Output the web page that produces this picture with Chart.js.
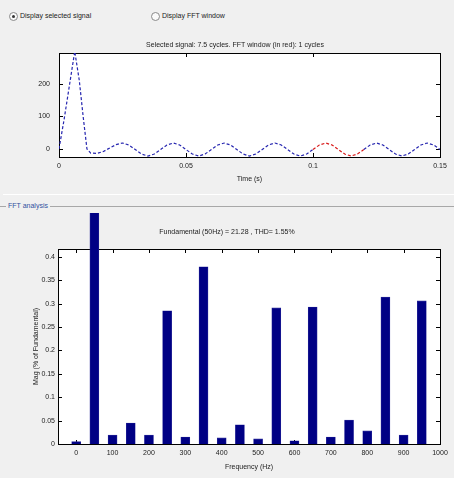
<!DOCTYPE html>
<html>
<head>
<meta charset="utf-8">
<title>FFT analysis</title>
<script src="https://cdn.jsdelivr.net/npm/chart.js@4.4.0/dist/chart.umd.min.js"></script>
<style>
  body { margin: 0; background: #f0f0f0; width: 454px; height: 478px; overflow: hidden; position: relative;
         font-family: "Liberation Sans Narrow", "Liberation Sans", Arial, sans-serif; font-size: 7px; color: #222; }
  canvas { position: absolute; }
  #sigChart { left: 30px; top: 30px; }
  #fftChart { left: 14px; top: 213px; }
  .radio { position: absolute; top: 12px; width: 7px; height: 7px; border: 1px solid #8a8a8a; border-radius: 50%; background: #fafafa; }
  .radio.on::after { content: ""; position: absolute; left: 2px; top: 2px; width: 3px; height: 3px; border-radius: 50%; background: #333; }
  .lbl { position: absolute; top: 11px; line-height: 10px; white-space: nowrap; }
  #sep { position: absolute; left: 3px; right: 0; top: 194px; height: 1px; background: #fff; }
  #panelLine { position: absolute; left: 0; right: 0; top: 206px; height: 1px; background: #a8a8a8; }
  #panelLbl { position: absolute; left: 6px; top: 201px; line-height: 10px; padding: 0 2px; background: #f0f0f0; color: #3050a0; }
</style>
</head>
<body>
<div class="radio on" style="left:9px"></div><div class="lbl" style="left:20px">Display selected signal</div>
<div class="radio" style="left:151px"></div><div class="lbl" style="left:162px">Display FFT window</div>
<div id="sep"></div>
<div id="panelLine"></div><div id="panelLbl">FFT analysis</div>
<canvas id="sigChart" width="439" height="155"></canvas>
<canvas id="fftChart" width="470" height="265"></canvas>
<script>
// selected signal (time in s)
const sigTime = [0, 0.002, 0.004, 0.0062, 0.008, 0.0095, 0.011, 0.0125, 0.015, 0.0175, 0.02, 0.0225,
  0.025, 0.0275, 0.03, 0.0325, 0.035, 0.0375, 0.04, 0.0425, 0.045, 0.0475, 0.05, 0.0525, 0.055, 0.0575,
  0.06, 0.0625, 0.065, 0.0675, 0.07, 0.0725, 0.075, 0.0775, 0.08, 0.0825, 0.085, 0.0875, 0.09, 0.0925,
  0.095, 0.0975, 0.1, 0.1025, 0.105, 0.1075, 0.11, 0.1125, 0.115, 0.1175, 0.12, 0.1225, 0.125, 0.1275,
  0.13, 0.1325, 0.135, 0.1375, 0.14, 0.1425, 0.145, 0.1475, 0.15];
const sigValue = [0, 90, 190, 300, 210, 100, 0, -13, -14, -8, 3, 13,
  18, 12, -2, -16, -22, -16, -2, 12, 18, 12, -2, -16, -22, -16,
  -2, 12, 18, 12, -2, -16, -22, -16, -2, 12, 18, 12, -2, -16,
  -22, -16, -2, 12, 18, 12, -2, -16, -22, -16, -2, 12, 18, 12,
  -2, -16, -22, -16, -2, 12, 18, 12, -2];
const fftWindow = [0.1, 0.12];
const sigXTicks = [0, 0.05, 0.1, 0.15];
const sigXLabels = ['0', '0.05', '0.1', '0.15'];
const sigYTicks = [0, 100, 200];

// FFT (magnitude in % of fundamental)
const freqHz = [0, 50, 100, 150, 200, 250, 300, 350, 400, 450, 500, 550, 600, 650, 700, 750, 800, 850, 900, 950];
const magPct = [0.005, 100, 0.019, 0.045, 0.019, 0.285, 0.015, 0.379, 0.013, 0.041, 0.011, 0.291, 0.007, 0.293,
  0.015, 0.051, 0.028, 0.314, 0.019, 0.306];
const fftXTicks = [0, 100, 200, 300, 400, 500, 600, 700, 800, 900, 1000];
const fftYTicks = [0, 0.05, 0.1, 0.15, 0.2, 0.25, 0.3, 0.35, 0.4];
const fftYLabels = ['0', '0.05', '0.1', '0.15', '0.2', '0.25', '0.3', '0.35', '0.4'];

Chart.defaults.font.family = '"Liberation Sans Narrow", "Liberation Sans", Arial, sans-serif';
Chart.defaults.font.size = 7;
Chart.defaults.color = '#222';

// white axes box, black frame and inward ticks like matlab
const matlabBox = {
  id: 'matlabBox',
  beforeDraw(chart) {
    const {ctx, chartArea: a} = chart;
    ctx.save();
    ctx.fillStyle = '#fff';
    ctx.fillRect(a.left, a.top, a.width, a.height);
    ctx.restore();
  },
  beforeDatasetsDraw(chart) {
    const {ctx, chartArea: a, scales} = chart;
    ctx.save();
    ctx.strokeStyle = '#000';
    ctx.lineWidth = 1;
    ctx.beginPath();
    scales.x.ticks.forEach(t => {
      const px = Math.round(scales.x.getPixelForValue(t.value)) + 0.5;
      ctx.moveTo(px, a.bottom); ctx.lineTo(px, a.bottom - 4);
      ctx.moveTo(px, a.top); ctx.lineTo(px, a.top + 4);
    });
    scales.y.ticks.forEach(t => {
      const py = Math.round(scales.y.getPixelForValue(t.value)) + 0.5;
      ctx.moveTo(a.left, py); ctx.lineTo(a.left + 4, py);
      ctx.moveTo(a.right, py); ctx.lineTo(a.right - 4, py);
    });
    ctx.stroke();
    ctx.strokeRect(Math.round(a.left) + 0.5, Math.round(a.top) + 0.5, Math.round(a.width), Math.round(a.height));
    ctx.restore();
  }
};

function fixTicks(list) {
  return scale => { scale.ticks = list.map(v => ({value: v})); };
}

new Chart(document.getElementById('sigChart'), {
  type: 'line',
  data: {
    datasets: [{
      data: sigTime.map((t, i) => ({x: t, y: sigValue[i]})),
      borderColor: '#2626b0',
      borderWidth: 1.2,
      borderDash: [3, 2],
      pointRadius: 0,
      tension: 0,
      segment: {
        borderColor: c => (c.p0.parsed.x >= fftWindow[0] - 1e-9 && c.p1.parsed.x <= fftWindow[1] + 1e-9) ? '#d81818' : undefined
      }
    }]
  },
  options: {
    responsive: false,
    animation: false,
    events: [],
    layout: {padding: {left: 0, right: 29, top: 0, bottom: 0}},
    plugins: {
      legend: {display: false},
      tooltip: {enabled: false},
      title: {
        display: true,
        text: 'Selected signal: 7.5 cycles. FFT window (in red): 1 cycles',
        font: {size: 7, weight: 'normal'},
        color: '#222',
        padding: {top: 10.6, bottom: 4}
      }
    },
    scales: {
      x: {
        type: 'linear', min: 0, max: 0.15,
        afterBuildTicks: fixTicks(sigXTicks),
        afterFit: s => { s.height = 28; },
        grid: {display: false, drawTicks: false},
        border: {display: false},
        ticks: {padding: 4.8, maxRotation: 0, callback: (v, i) => sigXLabels[i]},
        title: {display: true, text: 'Time (s)', font: {size: 7}, padding: {top: 0, bottom: 1.8}}
      },
      y: {
        min: -25, max: 295,
        afterBuildTicks: fixTicks(sigYTicks),
        afterFit: s => { s.width = 29; },
        grid: {display: false, drawTicks: false},
        border: {display: false},
        ticks: {padding: 9}
      }
    }
  },
  plugins: [matlabBox]
});

new Chart(document.getElementById('fftChart'), {
  type: 'bar',
  data: {
    datasets: [{
      data: freqHz.map((f, i) => ({x: f, y: magPct[i]})),
      backgroundColor: '#000084',
      borderColor: '#2a2a9a',
      borderWidth: 0.6,
      barThickness: 9,
      clip: {left: 0, top: 36, right: 0, bottom: 0}
    }]
  },
  options: {
    responsive: false,
    animation: false,
    events: [],
    layout: {padding: {left: 0, right: 44, top: 0, bottom: 0}},
    plugins: {
      legend: {display: false},
      tooltip: {enabled: false},
      title: {
        display: true,
        text: 'Fundamental (50Hz) = 21.28 , THD= 1.55%',
        font: {size: 7, weight: 'normal'},
        color: '#222',
        padding: {top: 14.8, bottom: 12.8}
      }
    },
    scales: {
      x: {
        type: 'linear', min: -50, max: 1000,
        offset: false,
        afterBuildTicks: fixTicks(fftXTicks),
        afterFit: s => { s.height = 34; },
        grid: {display: false, drawTicks: false},
        border: {display: false},
        ticks: {padding: 4.8, maxRotation: 0, callback: v => String(v)},
        title: {display: true, text: 'Frequency (Hz)', font: {size: 7}, padding: {top: 0, bottom: 6.8}}
      },
      y: {
        min: 0, max: 0.417,
        afterBuildTicks: fixTicks(fftYTicks),
        afterFit: s => { s.width = 44; },
        grid: {display: false, drawTicks: false},
        border: {display: false},
        ticks: {padding: 3, callback: (v, i) => fftYLabels[i]},
        title: {display: true, text: 'Mag (% of Fundamental)', font: {size: 7}, padding: {top: 17.8, bottom: 0}}
      }
    }
  },
  plugins: [matlabBox]
});
</script>
</body>
</html>
